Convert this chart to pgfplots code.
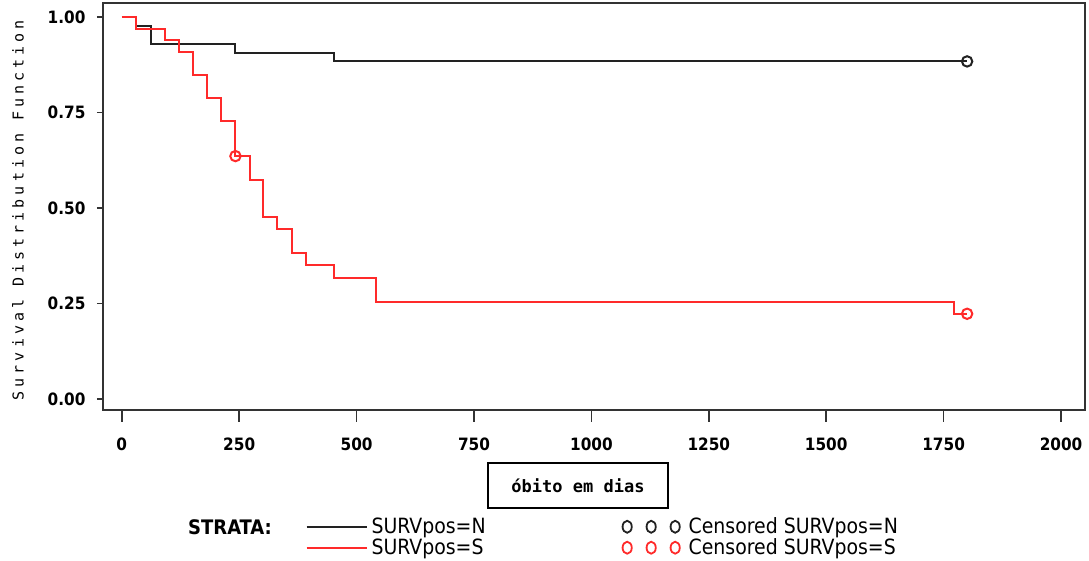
\documentclass[border=0pt]{standalone}
\usepackage{fontspec}
\setmainfont{DejaVu Sans Condensed}[BoldFont={DejaVu Sans Condensed Bold}]
\newfontfamily\ylabfont{DejaVu Sans Mono}[LetterSpace=27]
\newfontfamily\boxfont{DejaVu Sans Mono}
\usepackage{pgfplots}
\pgfplotsset{compat=1.18}
\definecolor{kmblack}{HTML}{222222}
\definecolor{kmred}{HTML}{FF2A2A}
\definecolor{frame}{HTML}{333333}
\pgfplotsset{
  kmline/.style={legend image code/.code={\draw[##1] (0pt,0pt) -- (30pt,0pt);}},
  kmcens/.style={legend image code/.code={
      \draw[##1] (2.2pt,0pt) ellipse (2.3pt and 3pt);
      \draw[##1] (14.2pt,0pt) ellipse (2.3pt and 3pt);
      \draw[##1] (26.2pt,0pt) ellipse (2.3pt and 3pt);
      \path (30.5pt,0pt);}},
}

\begin{document}
\begin{tikzpicture}
\useasboundingbox (-51.5pt,-75.5pt) rectangle (493pt,205pt);
\begin{axis}[
    scale only axis, width=491pt, height=203.5pt,
    xmin=-40, xmax=2051, ymin=-0.029, ymax=1.037,
    axis line style={frame, line width=1pt},
    tick align=outside, xtick pos=lower, ytick pos=left,
    xtick={0,250,500,750,1000,1250,1500,1750,2000},
    xticklabels={0,250,500,750,1000,1250,1500,1750,2000},
    ytick={0,0.25,0.5,0.75,1},
    yticklabels={0.00,0.25,0.50,0.75,1.00},
    xtick style={frame, line width=0.8pt, /pgfplots/major tick length=6pt},
    ytick style={frame, line width=0.8pt, /pgfplots/major tick length=3pt},
    ticklabel style={font=\fontsize{8.5}{10}\selectfont\bfseries},
    xticklabel style={anchor=north, yshift=-6pt},
    yticklabel style={anchor=east, xshift=-1pt},
    xlabel={\boxfont\bfseries\fontsize{8.5}{10}\selectfont óbito em dias},
    xlabel style={at={(axis description cs:0.4837,-0.1855)}, anchor=center,
                  draw, line width=1pt, minimum width=90pt, minimum height=22.5pt},
    ylabel={\ylabfont\fontsize{7.5}{9}\selectfont Survival Distribution Function},
    ylabel style={at={(axis description cs:-0.0866,0.491)}, anchor=center},
    legend columns=2,
    legend style={at={(axis description cs:0.200,-0.243)}, anchor=north west,
                  draw=none, fill=none, row sep=-3pt,
                  font=\fontsize{10.5}{12}\selectfont,
                  /tikz/every even column/.append style={column sep=66pt}},
    legend cell align=left,
]
% SURVpos=N
\addplot[kmblack, line width=1pt, const plot, forget plot]
    coordinates{(0,1)(31,0.977)(62,0.930)(242,0.907)(452,0.884)(1800,0.884)};
% SURVpos=S
\addplot[kmred, line width=1pt, const plot, forget plot]
    coordinates{(0,1)(31,0.970)(93,0.939)(121,0.909)(152,0.848)(182,0.788)
                (211,0.727)(242,0.636)(272,0.573)(301,0.477)(331,0.445)
                (363,0.382)(393,0.350)(452,0.318)(542,0.255)(1772,0.223)
                (1800,0.223)};
% censored
\addplot[kmblack, only marks, mark=o, mark size=2.6pt,
         mark options={line width=1pt}, forget plot]
    coordinates{(1800,0.884)};
\addplot[kmred, only marks, mark=o, mark size=2.6pt,
         mark options={line width=1pt}, forget plot]
    coordinates{(242,0.636)(1800,0.223)};
% legend
\addlegendimage{draw=kmblack, line width=0.9pt, kmline}
\addlegendentry{SURVpos=N}
\addlegendimage{draw=kmblack, line width=0.9pt, kmcens}
\addlegendentry{Censored SURVpos=N}
\addlegendimage{draw=kmred, line width=0.9pt, kmline}
\addlegendentry{SURVpos=S}
\addlegendimage{draw=kmred, line width=0.9pt, kmcens}
\addlegendentry{Censored SURVpos=S}
\end{axis}
\node[font=\fontsize{10}{12}\selectfont\bfseries] at (63.5pt,-58.5pt) {STRATA:};
\end{tikzpicture}
\end{document}
